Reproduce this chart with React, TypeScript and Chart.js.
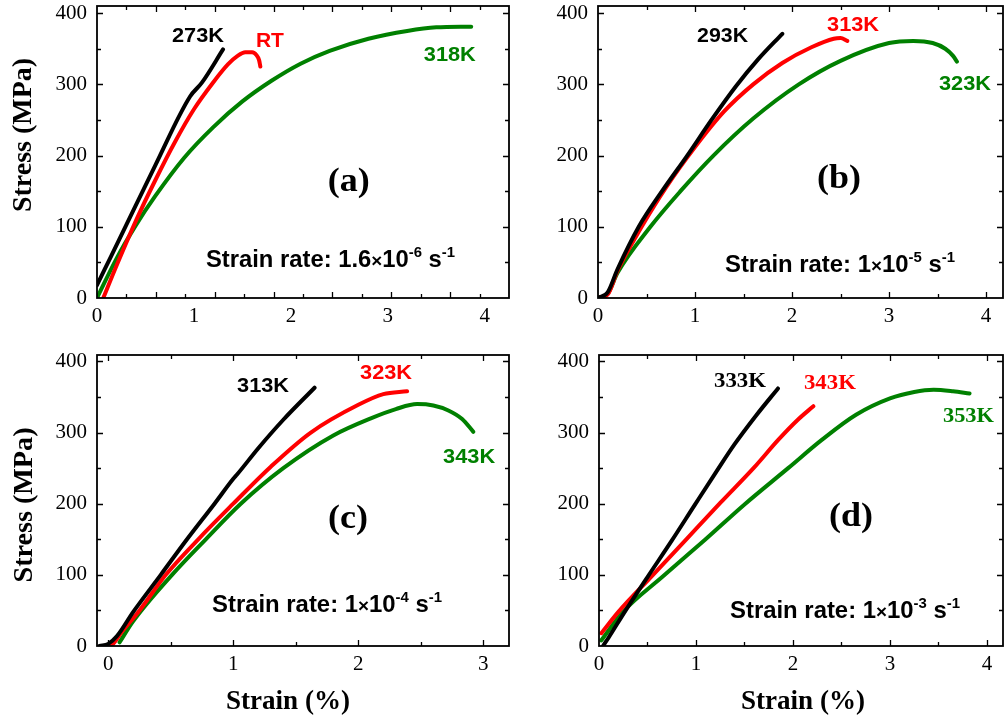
import React, { useEffect, useRef } from "react";
import { Chart, registerables } from "chart.js";

Chart.register(...registerables);

// ---------- tick values ----------
const Y_TICK_LABELS = [0, 100, 200, 300, 400];
const Y_MAJOR = [100, 200, 300, 400];
const Y_MINOR = [50, 150, 250, 350];
const X_TICK_LABELS_4 = [0, 1, 2, 3, 4];
const X_TICK_LABELS_3 = [0, 1, 2, 3];
const X_MAJOR_4 = [1, 2, 3, 4];
const X_MINOR_4 = [0.5, 1.5, 2.5, 3.5];
const X_MAJOR_3 = [0, 1, 2, 3];
const X_MINOR_3 = [0.5, 1.5, 2.5];
// panel (a) frame tick marks (not aligned with its labels)
const A_FRAME_MAJOR = [0.607, 1.214, 1.821, 2.429, 3.036, 3.643];
const A_FRAME_MINOR = [0.304, 0.911, 1.518, 2.125, 2.732, 3.339, 3.946];

// ---------- panel (a): 1.6e-6 /s ----------
const A_273_X = [0, 0.15, 0.3, 0.6, 0.96, 1.08, 1.3];
const A_273_Y = [18, 60, 102, 186, 283, 302, 349];
const A_RT_X = [0.065, 0.2, 0.4, 0.6, 0.8, 1.0, 1.2, 1.35, 1.45, 1.53, 1.6, 1.645, 1.672, 1.685];
const A_RT_Y = [0, 45, 108, 165, 218, 265, 303, 328, 340, 345, 345, 341, 334, 325];
const A_318_X = [0, 0.2, 0.4, 0.6, 0.9, 1.2, 1.5, 1.8, 2.1, 2.4, 2.8, 3.2, 3.5, 3.86];
const A_318_Y = [0, 55, 102, 143, 197, 240, 276, 305, 329, 347, 364, 375, 380, 381];

// ---------- panel (b): 1e-5 /s ----------
const B_293_X = [0, 0.1, 0.2, 0.42, 0.66, 0.92, 1.17, 1.42, 1.65, 1.9];
const B_293_Y = [0, 8, 40, 100, 150, 200, 250, 297, 335, 371];
const B_313_X = [0, 0.1, 0.2, 0.45, 0.7, 1.0, 1.3, 1.6, 1.9, 2.2, 2.43, 2.5, 2.57];
const B_313_Y = [0, 5, 38, 100, 155, 212, 262, 300, 330, 352, 364, 365, 361];
const B_323_X = [0, 0.1, 0.2, 0.54, 0.85, 1.19, 1.6, 2.07, 2.5, 3.0, 3.25, 3.45, 3.58, 3.66, 3.7];
const B_323_Y = [0, 6, 35, 100, 150, 200, 252, 300, 333, 358, 361, 358, 350, 340, 332];

// ---------- panel (c): 1e-4 /s ----------
const C_313_X = [-0.07, 0, 0.07, 0.2, 0.42, 0.63, 0.85, 1.0, 1.03, 1.2, 1.4, 1.65];
const C_313_Y = [0, 3, 14, 48, 100, 150, 200, 235, 241, 278, 318, 363];
const C_323_X = [-0.06, 0.03, 0.1, 0.25, 0.46, 0.72, 1.0, 1.3, 1.62, 2.0, 2.2, 2.39];
const C_323_Y = [0, 2, 18, 50, 100, 150, 200, 252, 300, 339, 354, 358];
const C_343_X = [0.09, 0.2, 0.51, 0.78, 1.06, 1.4, 1.8, 2.1, 2.3, 2.47, 2.6, 2.72, 2.83, 2.92];
const C_343_Y = [5, 35, 100, 150, 200, 250, 296, 320, 333, 340, 338, 331, 319, 301];

// ---------- panel (d): 1e-3 /s ----------
const D_333_X = [0.041, 0.1, 0.265, 0.505, 0.75, 0.986, 1.2, 1.4, 1.62, 1.845];
const D_333_Y = [0, 12, 48, 98, 148, 198, 243, 284, 324, 362];
const D_343_X = [0.024, 0.2, 0.55, 0.9, 1.25, 1.6, 1.85, 2.05, 2.21];
const D_343_Y = [18, 48, 99, 150, 201, 251, 290, 318, 337];
const D_353_X = [0.024, 0.247, 0.66, 1.09, 1.5, 1.95, 2.3, 2.65, 3.0, 3.25, 3.45, 3.65, 3.82];
const D_353_Y = [8, 48, 98, 149, 199, 250, 290, 325, 348, 357, 360, 358, 355];

const BLACK = "#000000";
const RED = "#ff0000";
const GREEN = "#008000";

const SERIF = "Liberation Serif";
const SANS = "Liberation Sans";

type Seg = { t: string; size: number; dy?: number };

function drawRich(
  ctx: CanvasRenderingContext2D,
  segs: Seg[],
  family: string,
  x: number,
  y: number,
  width: number,
  align: "left" | "center",
  color: string,
  rotate = false
) {
  ctx.save();
  ctx.fillStyle = color;
  ctx.textBaseline = "alphabetic";
  ctx.textAlign = "left";
  let nat = 0;
  const ws = segs.map((s) => {
    ctx.font = `bold ${s.size}px "${family}"`;
    const w = ctx.measureText(s.t).width;
    nat += w;
    return w;
  });
  const k = width ? width / nat : 1;
  ctx.translate(x, y);
  if (rotate) ctx.rotate(-Math.PI / 2);
  ctx.scale(k, 1);
  let cx = align === "center" ? -nat / 2 : 0;
  segs.forEach((s, i) => {
    ctx.font = `bold ${s.size}px "${family}"`;
    ctx.fillText(s.t, cx, s.dy || 0);
    cx += ws[i];
  });
  ctx.restore();
}

type Label = { text: string; x: number; y: number; color: string; family: string; size: number; width: number };

type PanelCfg = {
  left: number;
  top: number;
  w: number;
  h: number;
  padTop: number;
  padRight: number;
  yW: number;
  xH: number;
  xMin: number;
  xMax: number;
  yMax: number;
  xLabels: number[];
  xMajor: number[];
  xMinor: number[];
  series: { xs: number[]; ys: number[]; color: string }[];
  labels: Label[];
  letter: { text: string; x: number; y: number; width: number };
  rate: { mant: string; exp: string; x: number; y: number; width: number };
  yTitle?: { x: number; y: number; width: number };
  xTitle?: { x: number; y: number; width: number };
};

const PANELS: PanelCfg[] = [
  {
    left: 0, top: 0, w: 512, h: 340, padTop: 6, padRight: 3, yW: 97, xH: 42,
    xMin: 0, xMax: 4.25, yMax: 410,
    xLabels: X_TICK_LABELS_4, xMajor: A_FRAME_MAJOR, xMinor: A_FRAME_MINOR,
    series: [
      { xs: A_273_X, ys: A_273_Y, color: BLACK },
      { xs: A_RT_X, ys: A_RT_Y, color: RED },
      { xs: A_318_X, ys: A_318_Y, color: GREEN },
    ],
    labels: [
      { text: "273K", x: 0.773, y: 360, color: BLACK, family: SANS, size: 21, width: 52 },
      { text: "RT", x: 1.639, y: 353, color: RED, family: SANS, size: 21, width: 28 },
      { text: "318K", x: 3.371, y: 333, color: GREEN, family: SANS, size: 21, width: 52 },
    ],
    letter: { text: "(a)", x: 2.381, y: 150, width: 42 },
    rate: { mant: "1.6", exp: "-6", x: 1.124, y: 44, width: 249 },
    yTitle: { x: 31, y: 135, width: 154 },
  },
  {
    left: 502, top: 0, w: 502, h: 340, padTop: 6, padRight: 1, yW: 96, xH: 42,
    xMin: 0, xMax: 4.175, yMax: 410,
    xLabels: X_TICK_LABELS_4, xMajor: X_MAJOR_4, xMinor: X_MINOR_4,
    series: [
      { xs: B_293_X, ys: B_293_Y, color: BLACK },
      { xs: B_313_X, ys: B_313_Y, color: RED },
      { xs: B_323_X, ys: B_323_Y, color: GREEN },
    ],
    labels: [
      { text: "293K", x: 1.021, y: 360, color: BLACK, family: SANS, size: 21, width: 51 },
      { text: "313K", x: 2.361, y: 375, color: RED, family: SANS, size: 21, width: 52 },
      { text: "323K", x: 3.515, y: 292, color: GREEN, family: SANS, size: 21, width: 52 },
    ],
    letter: { text: "(b)", x: 2.258, y: 154, width: 44 },
    rate: { mant: "1", exp: "-5", x: 1.309, y: 37, width: 230 },
  },
  {
    left: 0, top: 340, w: 512, h: 381, padTop: 15, padRight: 3, yW: 97, xH: 75,
    xMin: -0.09, xMax: 3.205, yMax: 409,
    xLabels: X_TICK_LABELS_3, xMajor: X_MAJOR_3, xMinor: X_MINOR_3,
    series: [
      { xs: C_313_X, ys: C_313_Y, color: BLACK },
      { xs: C_323_X, ys: C_323_Y, color: RED },
      { xs: C_343_X, ys: C_343_Y, color: GREEN },
    ],
    labels: [
      { text: "313K", x: 1.03, y: 357, color: BLACK, family: SANS, size: 21, width: 52 },
      { text: "323K", x: 2.014, y: 375, color: RED, family: SANS, size: 21, width: 52 },
      { text: "343K", x: 2.678, y: 257, color: GREEN, family: SANS, size: 21, width: 52 },
    ],
    letter: { text: "(c)", x: 1.758, y: 166, width: 40 },
    rate: { mant: "1", exp: "-4", x: 0.83, y: 48, width: 230 },
    yTitle: { x: 32, y: 165, width: 155 },
    xTitle: { x: 288, y: 369, width: 124 },
  },
  {
    left: 502, top: 340, w: 502, h: 381, padTop: 15, padRight: 1, yW: 97, xH: 75,
    xMin: 0, xMax: 4.165, yMax: 409,
    xLabels: X_TICK_LABELS_4, xMajor: X_MAJOR_4, xMinor: X_MINOR_4,
    series: [
      { xs: D_333_X, ys: D_333_Y, color: BLACK },
      { xs: D_343_X, ys: D_343_Y, color: RED },
      { xs: D_353_X, ys: D_353_Y, color: GREEN },
    ],
    labels: [
      { text: "333K", x: 1.186, y: 364, color: BLACK, family: SERIF, size: 22, width: 52 },
      { text: "343K", x: 2.113, y: 361, color: RED, family: SERIF, size: 22, width: 52 },
      { text: "353K", x: 3.546, y: 315, color: GREEN, family: SERIF, size: 22, width: 51 },
    ],
    letter: { text: "(d)", x: 2.371, y: 168, width: 44 },
    rate: { mant: "1", exp: "-3", x: 1.351, y: 39, width: 230 },
    xTitle: { x: 301, y: 369, width: 124 },
  },
];

function Panel({ cfg }: { cfg: PanelCfg }) {
  const ref = useRef<HTMLCanvasElement | null>(null);

  useEffect(() => {
    if (!ref.current) return;
    const decor = {
      id: "decor",
      afterDraw(chart: any) {
        const ctx: CanvasRenderingContext2D = chart.ctx;
        const { left, right, top, bottom } = chart.chartArea;
        const xs = chart.scales.x;
        const ys = chart.scales.y;
        ctx.save();
        ctx.strokeStyle = "#000";
        ctx.lineWidth = 1.3;
        ctx.beginPath();
        const xt = (v: number, len: number) => {
          const p = Math.round(xs.getPixelForValue(v)) + 0.5;
          ctx.moveTo(p, bottom);
          ctx.lineTo(p, bottom - len);
          ctx.moveTo(p, top);
          ctx.lineTo(p, top + len);
        };
        const yt = (v: number, len: number) => {
          const p = Math.round(ys.getPixelForValue(v)) + 0.5;
          ctx.moveTo(left, p);
          ctx.lineTo(left + len, p);
          ctx.moveTo(right, p);
          ctx.lineTo(right - len, p);
        };
        cfg.xMajor.forEach((v) => xt(v, 6));
        cfg.xMinor.forEach((v) => xt(v, 4));
        Y_MAJOR.forEach((v) => yt(v, 6));
        Y_MINOR.forEach((v) => yt(v, 4));
        ctx.stroke();
        ctx.lineWidth = 1.8;
        ctx.strokeRect(left, top, right - left, bottom - top);
        ctx.restore();

        cfg.labels.forEach((l) => {
          drawRich(ctx, [{ t: l.text, size: l.size }], l.family, xs.getPixelForValue(l.x), ys.getPixelForValue(l.y), l.width, "left", l.color);
        });
        drawRich(ctx, [{ t: cfg.letter.text, size: 34 }], SERIF, xs.getPixelForValue(cfg.letter.x), ys.getPixelForValue(cfg.letter.y), cfg.letter.width, "left", BLACK);
        const r = cfg.rate;
        drawRich(
          ctx,
          [
            { t: `Strain rate: ${r.mant}`, size: 24 },
            { t: "×", size: 19 },
            { t: "10", size: 24 },
            { t: r.exp, size: 15, dy: -10 },
            { t: " s", size: 24 },
            { t: "-1", size: 15, dy: -10 },
          ],
          SANS,
          xs.getPixelForValue(r.x),
          ys.getPixelForValue(r.y),
          r.width,
          "left",
          BLACK
        );
        if (cfg.yTitle) {
          drawRich(ctx, [{ t: "Stress (MPa)", size: 27 }], SERIF, cfg.yTitle.x, cfg.yTitle.y, cfg.yTitle.width, "center", BLACK, true);
        }
        if (cfg.xTitle) {
          drawRich(ctx, [{ t: "Strain (%)", size: 27 }], SERIF, cfg.xTitle.x, cfg.xTitle.y, cfg.xTitle.width, "center", BLACK);
        }
      },
    };

    const chart = new Chart(ref.current, {
      type: "line",
      data: {
        datasets: cfg.series.map((s) => ({
          data: s.xs.map((x, i) => ({ x, y: s.ys[i] })),
          borderColor: s.color,
          backgroundColor: s.color,
          borderWidth: 4,
          borderCapStyle: "round",
          borderJoinStyle: "round",
          pointRadius: 0,
          fill: false,
          cubicInterpolationMode: "monotone",
        })),
      },
      options: {
        animation: false,
        responsive: false,
        maintainAspectRatio: false,
        devicePixelRatio: 1,
        layout: { padding: { top: cfg.padTop, right: cfg.padRight, left: 0, bottom: 0 } },
        plugins: { legend: { display: false }, tooltip: { enabled: false } },
        scales: {
          x: {
            type: "linear",
            min: cfg.xMin,
            max: cfg.xMax,
            grid: { display: false, drawTicks: false },
            border: { display: false },
            ticks: {
              font: { family: SERIF, size: 21 },
              color: "#000",
              padding: 6,
              autoSkip: false,
              maxRotation: 0,
            },
            afterBuildTicks: (s: any) => {
              s.ticks = cfg.xLabels.map((v) => ({ value: v }));
            },
            afterFit: (s: any) => {
              s.height = cfg.xH;
              s.paddingLeft = 0;
              s.paddingRight = 0;
            },
          },
          y: {
            type: "linear",
            min: 0,
            max: cfg.yMax,
            grid: { display: false, drawTicks: false },
            border: { display: false },
            ticks: {
              font: { family: SERIF, size: 21 },
              color: "#000",
              padding: 10,
            },
            afterBuildTicks: (s: any) => {
              s.ticks = Y_TICK_LABELS.map((v) => ({ value: v }));
            },
            afterFit: (s: any) => {
              s.width = cfg.yW;
              s.paddingTop = 0;
              s.paddingBottom = 0;
            },
          },
        },
      } as any,
      plugins: [decor],
    });
    return () => chart.destroy();
  }, [cfg]);

  return (
    <canvas
      ref={ref}
      width={cfg.w}
      height={cfg.h}
      style={{ position: "absolute", left: cfg.left, top: cfg.top, width: cfg.w, height: cfg.h }}
    />
  );
}

export default function App() {
  return (
    <div style={{ position: "absolute", left: 0, top: 0, width: 1004, height: 721, overflow: "hidden", background: "#fff" }}>
      {PANELS.map((p, i) => (
        <Panel key={i} cfg={p} />
      ))}
    </div>
  );
}
